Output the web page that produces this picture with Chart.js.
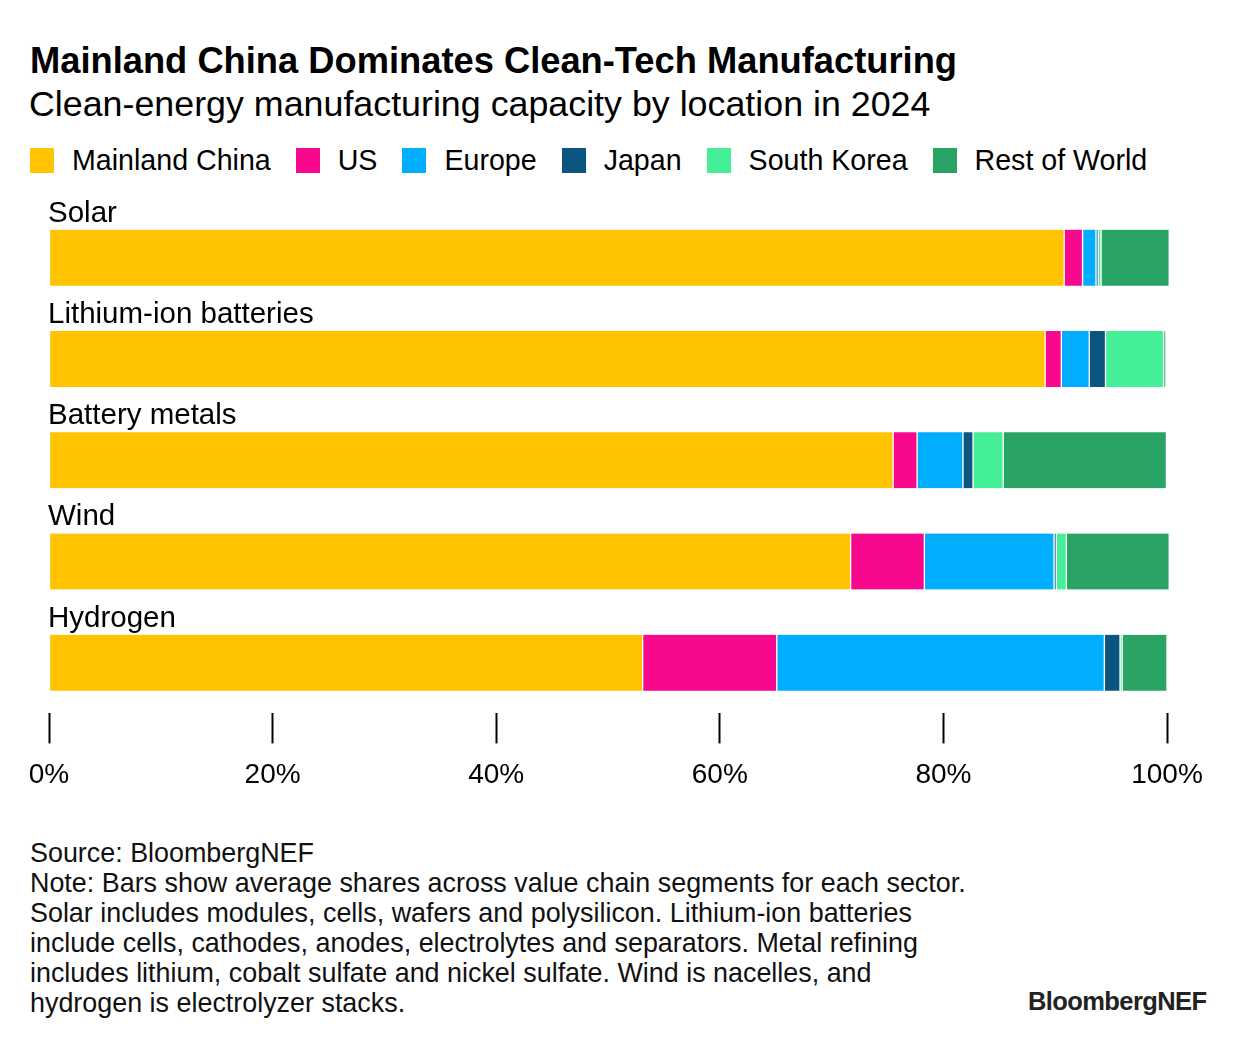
<!DOCTYPE html>
<html>
<head>
<meta charset="utf-8">
<script src="https://cdn.jsdelivr.net/npm/chart.js@4.4.1/dist/chart.umd.min.js"></script>
<style>
  html, body { margin: 0; padding: 0; background: #fff; }
  body { width: 1240px; height: 1042px; position: relative; overflow: hidden;
         font-family: "Liberation Sans", Arial, sans-serif; color: #000; }
  #title { position: absolute; left: 30px; top: 39px; font-size: 36.3px; font-weight: bold;
           line-height: 44px; white-space: nowrap; }
  #subtitle { position: absolute; left: 29px; top: 83px; font-size: 35.8px; line-height: 42px; white-space: nowrap; }
  #legend { position: absolute; left: 30px; top: 143px; display: flex; align-items: center; height: 34px; }
  .item { display: flex; align-items: center; margin-right: 25px; font-size: 28.6px; white-space: nowrap; }
  .swatch { width: 24px; height: 25px; margin-right: 18px; }
  #chartBox { position: absolute; left: 0; top: 190px; width: 1240px; height: 617px; }
  #footer { position: absolute; left: 30px; top: 838px; font-size: 26.9px; line-height: 30px; color: #111; }
  #logo { position: absolute; left: 1028px; top: 987px; font-size: 25.5px; font-weight: bold;
          letter-spacing: -0.6px; color: #222; }
</style>
</head>
<body>
<div id="title">Mainland China Dominates Clean-Tech Manufacturing</div>
<div id="subtitle">Clean-energy manufacturing capacity by location in 2024</div>
<div id="legend"></div>
<div id="chartBox"><canvas id="chart"></canvas></div>
<div id="footer">
  Source: BloombergNEF<br>
  Note: Bars show average shares across value chain segments for each sector.<br>
  Solar includes modules, cells, wafers and polysilicon. Lithium-ion batteries<br>
  include cells, cathodes, anodes, electrolytes and separators. Metal refining<br>
  includes lithium, cobalt sulfate and nickel sulfate. Wind is nacelles, and<br>
  hydrogen is electrolyzer stacks.
</div>
<div id="logo">BloombergNEF</div>

<script>
// sectors, top to bottom
const sectors = ['Solar', 'Lithium-ion batteries', 'Battery metals', 'Wind', 'Hydrogen'];

// share of capacity (%) per location
const chinaShare  = [90.8, 89.1, 75.5, 71.7, 53.1];
const usShare     = [1.65, 1.45, 2.15, 6.6, 12.0];
const europeShare = [1.2, 2.5, 4.1, 11.6, 29.3];
const japanShare  = [0.2, 1.45, 0.9, 0.2, 1.4];
const koreaShare  = [0.25, 5.2, 2.7, 0.9, 0.2];
const restShare   = [6.1, 0.2, 14.6, 9.2, 4.0];

const locations = ['Mainland China', 'US', 'Europe', 'Japan', 'South Korea', 'Rest of World'];
const colors = ['#FFC300', '#F7088C', '#00ADFF', '#0B5580', '#44EF97', '#29A464'];
const seriesValues = [chinaShare, usShare, europeShare, japanShare, koreaShare, restShare];

const xTicks = [0, 20, 40, 60, 80, 100];

// html legend
const legendEl = document.getElementById('legend');
locations.forEach((name, i) => {
    const item = document.createElement('div');
    item.className = 'item';
    item.innerHTML = '<span class="swatch" style="background:' + colors[i] + '"></span>' + name;
    legendEl.appendChild(item);
});

// sector names written just above each bar
const sectorLabels = {
    id: 'sectorLabels',
    afterDatasetsDraw(chart) {
        const ctx = chart.ctx;
        const meta = chart.getDatasetMeta(0);
        ctx.save();
        ctx.fillStyle = '#000';
        ctx.font = '29.5px "Liberation Sans", Arial, sans-serif';
        ctx.textAlign = 'left';
        ctx.textBaseline = 'alphabetic';
        meta.data.forEach((bar, i) => {
            const top = bar.y - bar.height / 2;
            ctx.fillText(sectors[i], chart.chartArea.left - 1, top - 8);
        });
        ctx.restore();
    }
};

const datasets = locations.map((name, i) => ({
    label: name,
    data: seriesValues[i],
    backgroundColor: colors[i],
    borderColor: '#ffffff',
    borderWidth: { left: 1, right: 1, top: 0, bottom: 0 },
    borderSkipped: false,
    barThickness: 56,
    clip: false
}));

new Chart(document.getElementById('chart'), {
    type: 'bar',
    data: { labels: sectors, datasets: datasets },
    options: {
        indexAxis: 'y',
        responsive: true,
        maintainAspectRatio: false,
        animation: false,
        layout: { padding: { left: 49, right: 73, top: 17, bottom: 0 } },
        plugins: {
            legend: { display: false },
            tooltip: { enabled: false }
        },
        scales: {
            x: {
                stacked: true,
                min: 0,
                max: 100,
                afterBuildTicks(scale) {
                    scale.ticks = xTicks.map(v => ({ value: v }));
                },
                border: { display: false },
                grid: {
                    drawOnChartArea: false,
                    drawTicks: true,
                    tickLength: 30,
                    tickWidth: 2,
                    tickColor: '#000'
                },
                ticks: {
                    padding: 15,
                    color: '#000',
                    maxRotation: 0,
                    autoSkip: false,
                    font: { size: 28, family: '"Liberation Sans", Arial, sans-serif' },
                    callback: v => v + '%'
                }
            },
            y: {
                stacked: true,
                display: false
            }
        }
    },
    plugins: [sectorLabels]
});
</script>
</body>
</html>
